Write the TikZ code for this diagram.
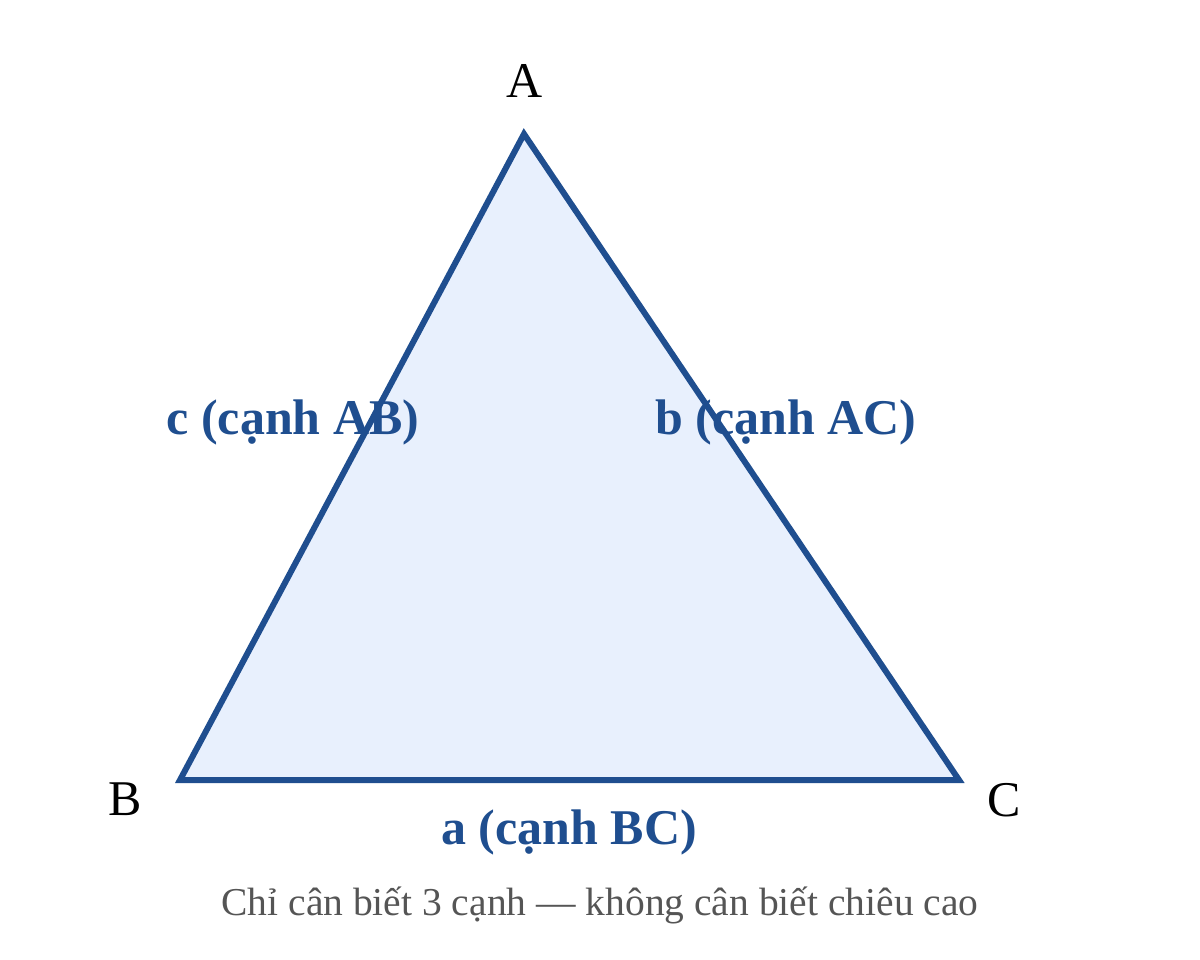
\documentclass[tikz,border=0pt]{standalone}
\usepackage{fontspec}
\setmainfont{Liberation Serif}
\definecolor{edgeblue}{HTML}{1F4E8F}
\definecolor{fillblue}{HTML}{E8F0FD}
\definecolor{capgray}{HTML}{555555}
\begin{document}
\begin{tikzpicture}[x=1pt,y=-1pt,
  vlabel/.style={anchor=base,inner sep=0pt,font=\fontsize{50}{54}\selectfont,text=black},
  slabel/.style={anchor=base,inner sep=0pt,font=\fontsize{50}{54}\selectfont\bfseries,text=edgeblue},
  caption/.style={anchor=base,inner sep=0pt,font=\fontsize{39.5}{44}\selectfont,text=capgray},
  tri/.style={draw=edgeblue,fill=fillblue,line width=6pt,line join=miter}]
\useasboundingbox (0,0) rectangle (1200,960);
\coordinate (A) at (524,134);
\coordinate (B) at (180,780);
\coordinate (C) at (959,780);
\draw[tri] (A) -- (B) -- (C) -- cycle;
\node[vlabel] (lA) at (525,98) {A};
\node[vlabel] (lB) at (125,815) {B};
\node[vlabel] (lC) at (1004,816) {C};
\node[slabel] (lc) at (293,434) {c (cạnh AB)};
\node[slabel] (lb) at (786,434) {b (cạnh AC)};
\node[slabel] (la) at (569,844) {a (cạnh BC)};
\node[caption] (cap) at (600,915) {Chỉ cân biết 3 cạnh — không cân biết chiêu cao};
\end{tikzpicture}
\end{document}
